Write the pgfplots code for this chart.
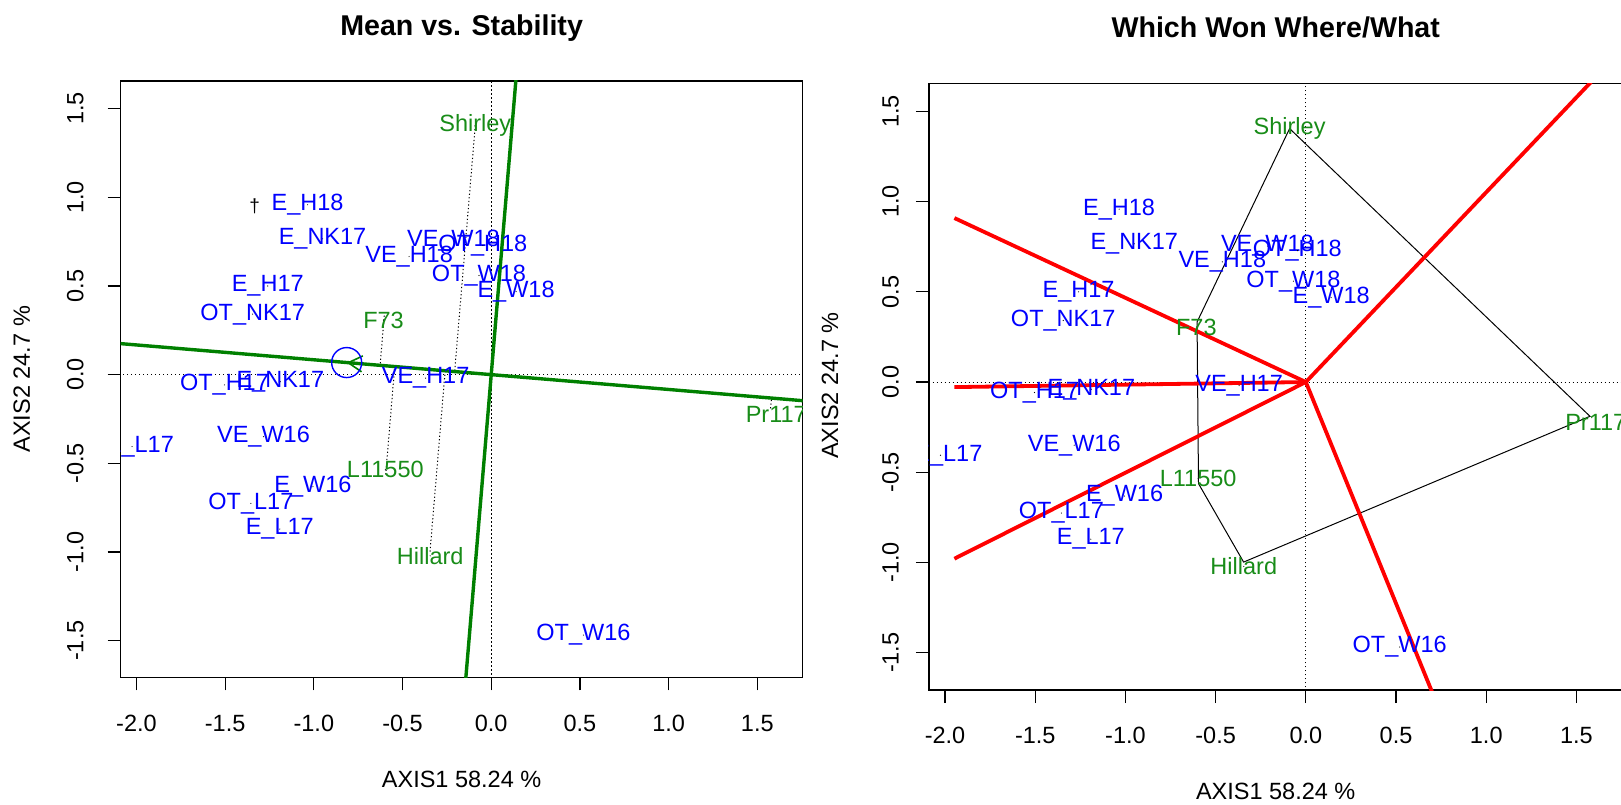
\documentclass[border=0pt]{standalone}
\usepackage{fontspec}
\setmainfont{Liberation Sans}
\usepackage{pgfplots}
\usepackage{pgfplotstable}
\pgfplotsset{compat=1.18}
\usetikzlibrary{arrows.meta}
\definecolor{gtxt}{RGB}{24,140,24}
\definecolor{gline}{RGB}{0,128,0}
\definecolor{benv}{RGB}{0,0,255}
\newcommand{\lbl}{\fontsize{11.75}{14}\selectfont}

\pgfplotstableread{
x y label
-1.035 0.958 E\_H18
-0.951 0.766 E\_NK17
-0.213 0.754 VE\_W18
-0.047 0.728 OT\_H18
-0.463 0.666 VE\_H18
-0.069 0.559 OT\_W18
0.140 0.468 E\_W18
-1.260 0.500 E\_H17
-1.345 0.341 OT\_NK17
-0.370 -0.020 VE\_H17
-1.504 -0.058 OT\_H17
-1.189 -0.040 E\_NK17
-1.284 -0.350 VE\_W16
-2.025 -0.406 VE\_L17
-1.005 -0.632 E\_W16
-1.355 -0.726 OT\_L17
-1.192 -0.871 E\_L17
0.520 -1.469 OT\_W16
}\envtab

\pgfplotstableread{
x y label
-0.090 1.405 Shirley
-0.607 0.305 F73
-0.597 -0.535 L11550
-0.344 -1.022 Hillard
1.607 -0.222 Pr117
}\gentab

\pgfplotstableread{
x y
-0.090 1.405
1.575 -0.190
-0.345 -0.998
-0.595 -0.563
-0.603 0.333
-0.090 1.405
}\polytab

\pgfplotsset{
  bip/.style={
    scale only axis,
    xmin=-2.09, xmax=1.756, ymin=-1.707, ymax=1.656,
    xtick={-2,-1.5,-1,-0.5,0,0.5,1,1.5},
    xticklabels={-2.0,-1.5,-1.0,-0.5,0.0,0.5,1.0,1.5},
    ytick={-1.5,-1,-0.5,0,0.5,1,1.5},
    yticklabels={-1.5,-1.0,-0.5,0.0,0.5,1.0,1.5},
    xtick pos=bottom, ytick pos=left,
    tick align=outside, major tick length=6.5pt,
    every tick/.style={black, line width=0.6pt},
    axis line style={line width=0.7pt},
    ticklabel style={font=\lbl},
    xticklabel style={anchor=north},
    yticklabel style={rotate=90, anchor=south},
    clip marker paths=true,
  },
  envlab/.style={only marks, mark=*, mark size=0.01pt,
    mark options={draw=none, fill=none},
    nodes near coords, point meta=explicit symbolic,
    every node near coord/.append style={anchor=center, inner sep=0pt,
      font=\lbl, text=benv}},
  genlab/.style={only marks, mark=*, mark size=0.01pt,
    mark options={draw=none, fill=none},
    nodes near coords, point meta=explicit symbolic,
    every node near coord/.append style={anchor=center, inner sep=0pt,
      font=\lbl, text=gtxt}},
  zdot/.style={black, line width=0.5pt, dash pattern=on 0.6pt off 1.4pt},
  proj/.style={black, line width=0.5pt, dash pattern=on 0.6pt off 1.2pt},
}

\begin{document}
\begin{tikzpicture}
\useasboundingbox (0,0) rectangle (810.5pt,402pt);
\clip (0,0) rectangle (810.5pt,402pt);

% ---------------- left panel ----------------
\begin{axis}[bip,
  at={(60.25pt,63.35pt)}, anchor=south west,
  width=341.1pt, height=298.15pt,
  xticklabel shift=9pt, yticklabel shift=8.4pt]
\addplot[zdot] coordinates {(-3,0) (3,0)};
\addplot[zdot] coordinates {(0,-3) (0,3)};
% projections onto the AEC abscissa
\addplot[proj] coordinates {(-0.090,1.405) (-0.2062,0.0173)};
\addplot[proj] coordinates {(-0.603,0.333) (-0.6265,0.0524)};
\addplot[proj] coordinates {(-0.595,-0.563) (-0.5441,0.0455)};
\addplot[proj] coordinates {(-0.345,-0.998) (-0.2597,0.0217)};
\addplot[proj] coordinates {(1.575,-0.190) (1.5799,-0.1322)};
% AEC axes
\addplot[gline, line width=1.7pt] coordinates {(-2.5,0.20925) (2.5,-0.20925)};
\addplot[gline, line width=1.7pt] coordinates {(-0.1507,-1.8) (0.1507,1.8)};
\addplot[gline, line width=0.8pt, -{Straight Barb[length=7pt,width=8pt]}] coordinates {(0,0) (-0.815,0.068)};
\addplot[only marks, mark=o, mark size=7.5pt, mark options={benv, line width=0.7pt}] coordinates {(-0.815,0.068)};
\addplot[envlab] table[x=x,y=y,meta=label]{\envtab};
\addplot[genlab] table[x=x,y=y,meta=label]{\gentab};
\addplot[only marks, mark=*, mark size=0.01pt, mark options={draw=none, fill=none},
  nodes near coords={\fontsize{9.5}{10}\selectfont †},
  every node near coord/.append style={anchor=center, inner sep=0pt, text=black}]
  coordinates {(-1.334,0.950)};
\end{axis}

% ---------------- right panel ----------------
\begin{axis}[bip,
  at={(464.4pt,57pt)}, anchor=south west,
  width=346.9pt, height=303.35pt,
  xticklabel shift=8.4pt, yticklabel shift=4.9pt]
\addplot[zdot] coordinates {(-3,0) (3,0)};
\addplot[zdot] coordinates {(0,-3) (0,3)};
\addplot[black, line width=0.5pt] table[x=x,y=y]{\polytab};
\addplot[red, line width=1.9pt] coordinates {(0,0) (-1.948,0.909)};
\addplot[red, line width=1.9pt] coordinates {(0,0) (-1.948,-0.028)};
\addplot[red, line width=1.9pt] coordinates {(0,0) (-1.948,-0.979)};
\addplot[red, line width=1.9pt] coordinates {(0,0) (0.729,-1.790)};
\addplot[red, line width=1.9pt] coordinates {(0,0) (1.651,1.737)};
\addplot[envlab] table[x=x,y=y,meta=label]{\envtab};
\addplot[genlab] table[x=x,y=y,meta=label]{\gentab};
\end{axis}

% titles and axis labels
\node[font=\fontsize{14.3}{17}\selectfont\bfseries] at (230.8pt,387.85pt) {Mean vs. Stability};
\node[font=\fontsize{14.3}{17}\selectfont\bfseries] at (637.85pt,388.3pt) {Which Won Where/What};
\node[font=\lbl] at (230.8pt,12.5pt) {AXIS1 58.24 \%};
\node[font=\lbl] at (637.85pt,6.2pt) {AXIS1 58.24 \%};
\node[font=\lbl, rotate=90] at (10.85pt,212.4pt) {AXIS2 24.7 \%};
\node[font=\lbl, rotate=90] at (415pt,209.2pt) {AXIS2 24.7 \%};
\end{tikzpicture}
\end{document}
